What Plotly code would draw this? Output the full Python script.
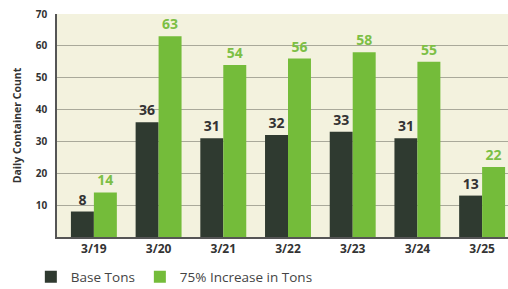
import plotly.graph_objects as go

dates = ["3/19", "3/20", "3/21", "3/22", "3/23", "3/24", "3/25"]
base_tons = [8, 36, 31, 32, 33, 31, 13]
increase_tons = [14, 63, 54, 56, 58, 55, 22]
y_ticks = [10, 20, 30, 40, 50, 60, 70]

DARK = "#2f3a30"
GREEN = "#74bc3a"
FONT = "Open Sans"

fig = go.Figure()
fig.add_trace(go.Bar(
    x=dates, y=base_tons, name="Base Tons",
    marker=dict(color=DARK, line=dict(width=0)),
    text=[str(v) for v in base_tons], textposition="outside",
    textfont=dict(family=FONT, size=14, color="#333333", weight="bold"),
    cliponaxis=False,
))
fig.add_trace(go.Bar(
    x=dates, y=increase_tons, name="75% Increase in Tons",
    marker=dict(color=GREEN, line=dict(width=0)),
    text=[str(v) for v in increase_tons], textposition="outside",
    textfont=dict(family=FONT, size=14, color="#7cbf45", weight="bold"),
    cliponaxis=False,
))

fig.update_layout(
    width=508, height=289,
    margin=dict(l=57, r=0, t=14, b=52, autoexpand=False),
    paper_bgcolor="white",
    plot_bgcolor="#f3f2de",
    barmode="group",
    bargap=0.29, bargroupgap=0,
    showlegend=True,
    legend=dict(orientation="h", x=-0.058, y=-0.11, xanchor="left", yanchor="top",
                font=dict(family=FONT, size=13.5, color="#444444"),
                itemwidth=30, tracegroupgap=0, traceorder="normal"),
    font=dict(family=FONT),
)
fig.update_xaxes(
    range=[-0.57, 6.4],
    showgrid=False,
    showline=True, linecolor="#555555", linewidth=1.5,
    ticks="", tickfont=dict(family=FONT, size=12, color="#333333", weight="bold"),
)
fig.update_yaxes(
    range=[0, 70],
    tickvals=y_ticks,
    showgrid=True, gridcolor="#a9a99a", gridwidth=1,
    showline=True, linecolor="#555555", linewidth=1.5,
    zeroline=False,
    ticks="", tickfont=dict(family=FONT, size=10, color="#333333", weight="bold"),
    ticklabelstandoff=6,
    title=dict(text="Daily Container Count", standoff=12,
               font=dict(family=FONT, size=10.5, color="#333333", weight="bold")),
)

fig.write_html("out.html", config={"displayModeBar": False},
               post_script="document.body.style.margin='0';document.body.style.overflow='hidden';")
